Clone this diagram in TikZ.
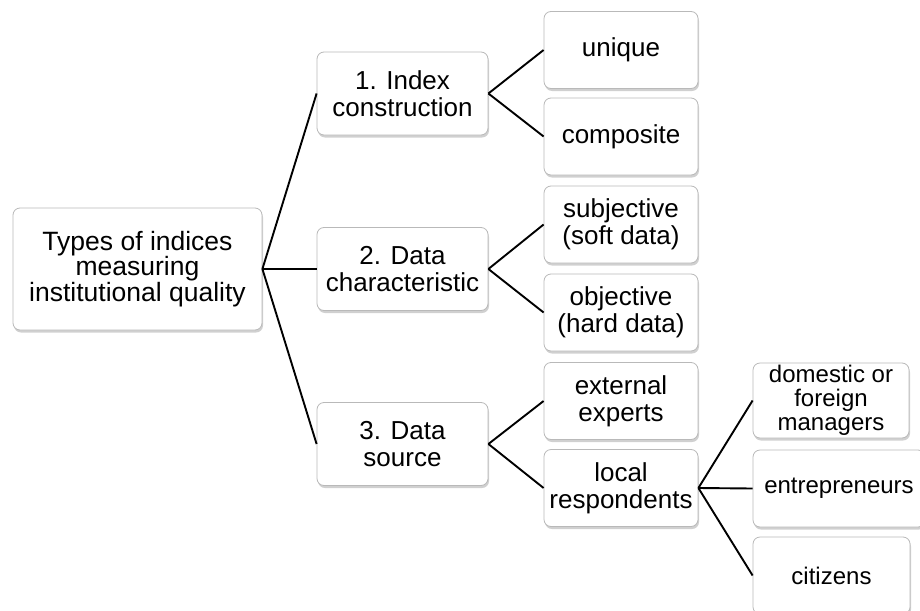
\documentclass[tikz,border=0pt]{standalone}
\usepackage{fontspec}
\setmainfont{Liberation Sans}
\usetikzlibrary{shadows}
\tikzset{
  box/.style={draw=gray!55, line width=0.8pt, fill=white, rounded corners=7pt,
    align=center, inner sep=0pt,
    drop shadow={shadow xshift=1pt, shadow yshift=-2.5pt, opacity=0.3, fill=black!60}},
  rootbox/.style={box, minimum width=249pt, minimum height=122pt, font=\fontsize{26.5}{25.5}\selectfont},
  lonebox/.style={box, minimum width=171pt, minimum height=83pt, font=\fontsize{26}{27}\selectfont},
  ltwobox/.style={box, minimum width=154pt, minimum height=77pt, font=\fontsize{26}{27}\selectfont},
  lthreebox/.style={box, minimum width=156pt, minimum height=76pt, font=\fontsize{24}{24}\selectfont},
  link/.style={draw=black, line width=1.9pt},
}
\begin{document}
\begin{tikzpicture}[x=1pt,y=-1pt]
\useasboundingbox (0,0) rectangle (920,610);
\fill[white] (0,0) rectangle (920,610);
% root
\node[rootbox] (root) at (137.5,269) {Types of indices\\measuring\\institutional quality};
% level 1
\node[lonebox] (c1) at (402.5,93.5) {1. Index\\construction};
\node[lonebox] (c2) at (402.5,269) {2. Data\\characteristic};
\node[lonebox] (c3) at (402.5,444) {3. Data\\source};
% level 2
\node[ltwobox] (unique) at (621,50) {unique};
\node[ltwobox] (composite) at (621,136.5) {composite};
\node[ltwobox] (subj) at (621,224.5) {subjective\\(soft data)};
\node[ltwobox] (obj) at (621,312.5) {objective\\(hard data)};
\node[ltwobox] (ext) at (621,401) {external\\experts};
\node[ltwobox] (local) at (621,488) {local\\respondents};
% level 3
\node[lthreebox, minimum height=75pt] (dom) at (831,400.5) {domestic or\\foreign\\managers};
\node[lthreebox, minimum width=172pt, minimum height=77pt] (entr) at (839,488.5) {entrepreneurs};
\node[lthreebox, minimum width=157pt, minimum height=77pt] (cit) at (831.5,575.5) {citizens};
% connectors
\draw[link] (root.east) -- (c1.west);
\draw[link] (root.east) -- (c2.west);
\draw[link] (root.east) -- (c3.west);
\draw[link] (c1.east) -- (unique.west);
\draw[link] (c1.east) -- (composite.west);
\draw[link] (c2.east) -- (subj.west);
\draw[link] (c2.east) -- (obj.west);
\draw[link] (c3.east) -- (ext.west);
\draw[link] (c3.east) -- (local.west);
\draw[link] (local.east) -- (dom.west);
\draw[link] (local.east) -- (entr.west);
\draw[link] (local.east) -- (cit.west);
\end{tikzpicture}
\end{document}
